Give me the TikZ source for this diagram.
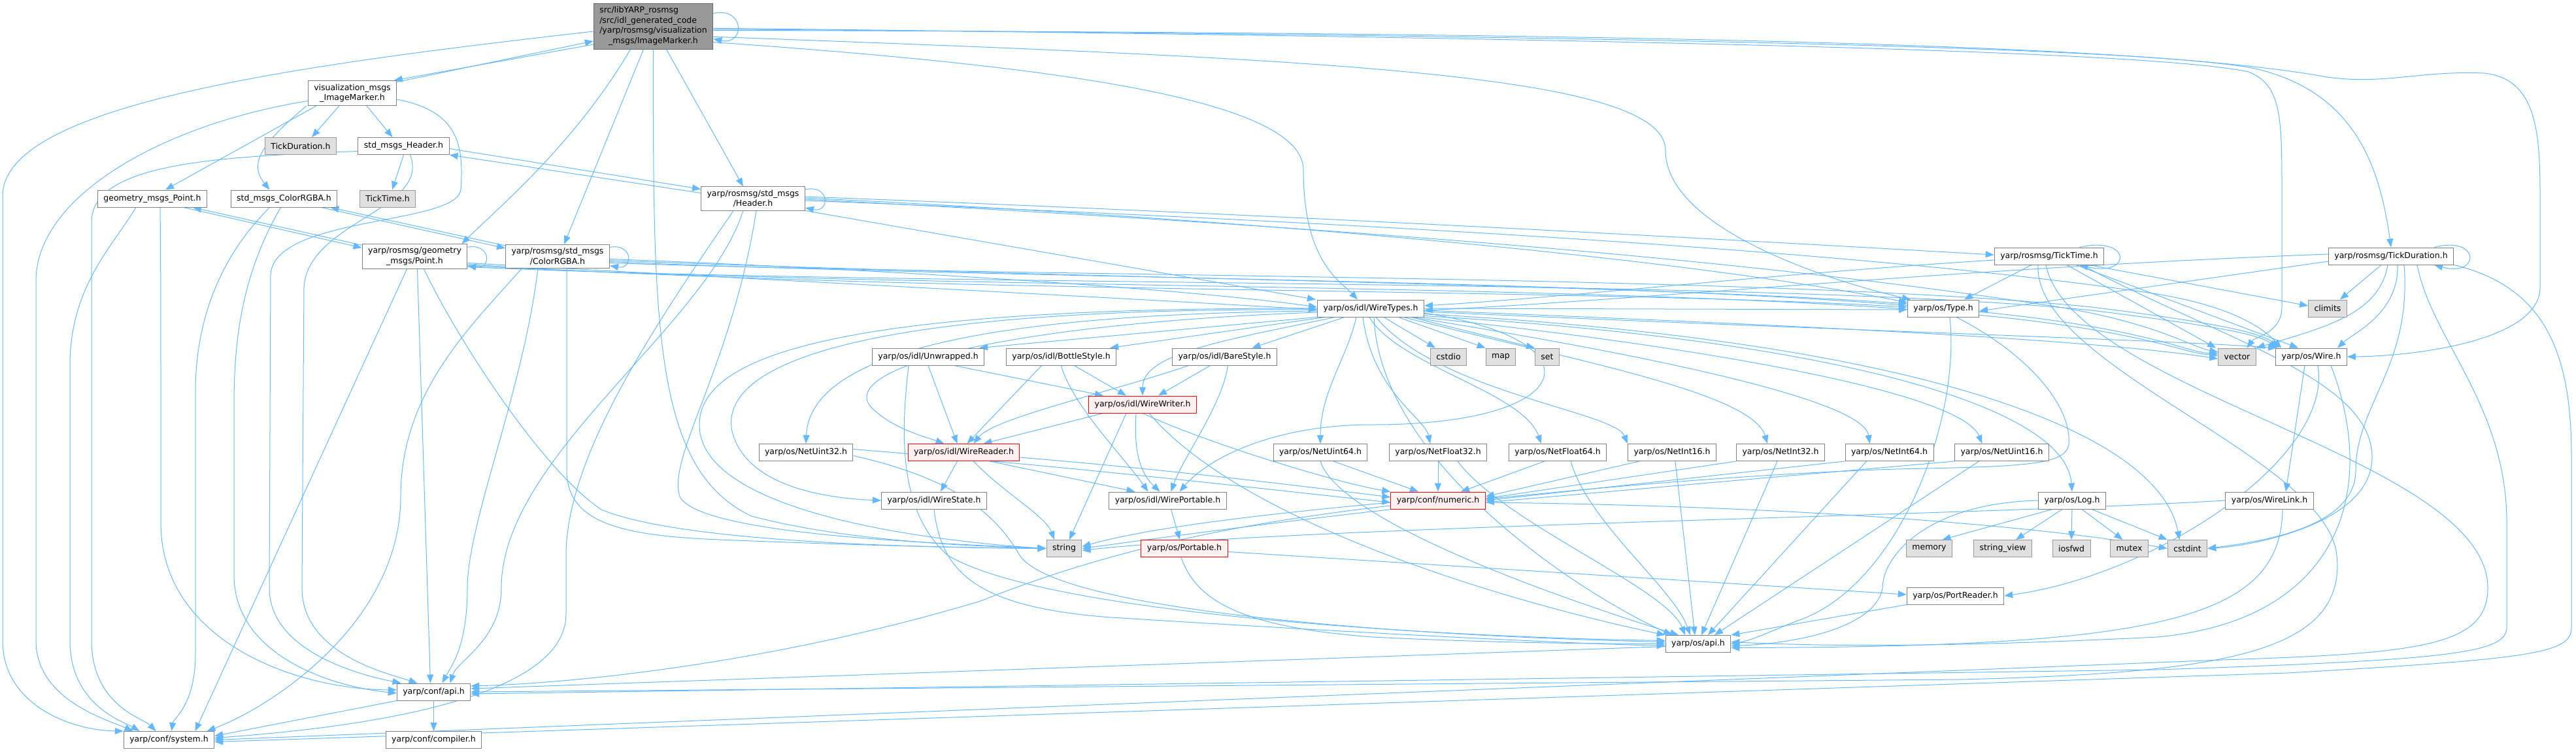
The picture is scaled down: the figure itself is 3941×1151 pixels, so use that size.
\documentclass[tikz,border=0pt]{standalone}
\usepackage{fontspec}
\usetikzlibrary{arrows.meta}
\newfontfamily\dotfont{DejaVu Sans}
\definecolor{incblue}{HTML}{63B8FF}
\definecolor{framegray}{HTML}{808080}
\definecolor{extframe}{HTML}{999999}
\definecolor{extgray}{HTML}{E0E0E0}
\definecolor{trunkred}{HTML}{FFF0F0}
\definecolor{topframe}{HTML}{666666}
\definecolor{topgray}{HTML}{999999}
\pgfdeclarelayer{wires}\pgfsetlayers{wires,main}
\tikzset{>={Triangle[length=13pt,width=10pt]},every node/.style={font=\dotfont\fontsize{12.5}{15.5}\selectfont},
  hfile/.style={draw=framegray,fill=white,line width=1pt,inner xsep=9pt,inner ysep=3pt,minimum height=26pt},
  sfile/.style={hfile,draw=extframe,fill=extgray},tfile/.style={hfile,draw=red,fill=trunkred},
  topfile/.style={hfile,draw=topframe,fill=topgray,inner ysep=4pt},two/.style={align=center,inner ysep=5pt},
  inc/.style={->,draw=incblue,line width=1pt}}

\begin{document}
\begin{tikzpicture}[x=1pt,y=-1pt]
\useasboundingbox (0,0) rectangle (3941,1151);
\node[topfile] (main) at (999.5,40) {\begin{tabular}{@{}l@{}}src/libYARP\_rosmsg\\/src/idl\_generated\_code\\/yarp/rosmsg/visualization\\\multicolumn{1}{@{}c@{}}{\_msgs/ImageMarker.h}\end{tabular}};
\node[hfile,two] (vis) at (539,142.5) {visualization\_msgs\\\_ImageMarker.h};
\node[sfile] (tdg) at (460,223.5) {TickDuration.h};
\node[hfile] (sh) at (617.5,223.5) {std\_msgs\_Header.h};
\node[hfile] (gp) at (233,304) {geometry\_msgs\_Point.h};
\node[hfile] (sc) at (434.5,304) {std\_msgs\_ColorRGBA.h};
\node[sfile] (ttg) at (593,304) {TickTime.h};
\node[hfile,two] (hdr) at (1152,304) {yarp/rosmsg/std\_msgs\\/Header.h};
\node[hfile,two] (pt) at (634.5,392.5) {yarp/rosmsg/geometry\\\_msgs/Point.h};
\node[hfile,two] (rgba) at (853,392.5) {yarp/rosmsg/std\_msgs\\/ColorRGBA.h};
\node[hfile] (tt) at (3135,392) {yarp/rosmsg/TickTime.h};
\node[hfile] (td) at (3658,392) {yarp/rosmsg/TickDuration.h};
\node[hfile] (wt) at (2097,472) {yarp/os/idl/WireTypes.h};
\node[hfile] (type) at (2973,472) {yarp/os/Type.h};
\node[sfile] (climits) at (3561,472) {climits};
\node[hfile] (unw) at (1420,546) {yarp/os/idl/Unwrapped.h};
\node[hfile] (bot) at (1623.5,546) {yarp/os/idl/BottleStyle.h};
\node[hfile] (bare) at (1873.5,546) {yarp/os/idl/BareStyle.h};
\node[sfile] (cstdio) at (2216,546) {cstdio};
\node[sfile] (map) at (2296,546) {map};
\node[sfile] (set) at (2367,546) {set};
\node[sfile] (vector) at (3422.5,546) {vector};
\node[hfile] (wire) at (3536,546) {yarp/os/Wire.h};
\node[tfile] (ww) at (1748,619) {yarp/os/idl/WireWriter.h};
\node[hfile] (nu32) at (1233,692.5) {yarp/os/NetUint32.h};
\node[tfile] (wr) at (1474.5,692.5) {yarp/os/idl/WireReader.h};
\node[hfile] (nu64) at (2020,692.5) {yarp/os/NetUint64.h};
\node[hfile] (nf32) at (2200,692.5) {yarp/os/NetFloat32.h};
\node[hfile] (nf64) at (2383,692.5) {yarp/os/NetFloat64.h};
\node[hfile] (ni16) at (2558,692.5) {yarp/os/NetInt16.h};
\node[hfile] (ni32) at (2724,692.5) {yarp/os/NetInt32.h};
\node[hfile] (ni64) at (2890.5,692.5) {yarp/os/NetInt64.h};
\node[hfile] (nu16) at (3062.5,692.5) {yarp/os/NetUint16.h};
\node[hfile] (wst) at (1429,766) {yarp/os/idl/WireState.h};
\node[hfile] (wp) at (1786.5,766) {yarp/os/idl/WirePortable.h};
\node[tfile] (num) at (2200,766) {yarp/conf/numeric.h};
\node[hfile] (log) at (3170,766) {yarp/os/Log.h};
\node[hfile] (wl) at (3472,766) {yarp/os/WireLink.h};
\node[sfile] (str) at (1628,839.5) {string};
\node[tfile] (port) at (1812,839.5) {yarp/os/Portable.h};
\node[sfile] (memory) at (2951.5,839.5) {memory};
\node[sfile] (sv) at (3064,839.5) {string\_view};
\node[sfile] (iosfwd) at (3169,839.5) {iosfwd};
\node[sfile] (mutex) at (3257.5,839.5) {mutex};
\node[sfile] (cstdint) at (3346.5,839.5) {cstdint};
\node[hfile] (pr) at (2991.5,912) {yarp/os/PortReader.h};
\node[hfile] (osapi) at (2598,985.5) {yarp/os/api.h};
\node[hfile] (capi) at (663.5,1059) {yarp/conf/api.h};
\node[hfile] (sys) at (258.5,1132.5) {yarp/conf/system.h};
\node[hfile] (comp) at (663.5,1132.5) {yarp/conf/compiler.h};

\begin{pgfonlayer}{wires}
\draw[inc] (main.12) .. controls (1140,10) and (1140,70) .. (main.348);
\draw[inc] (main.197) -- (vis.17);
\draw[inc] (vis.14) -- (main.194);
\draw[inc] (main.185) .. controls (450,100) and (4,160) .. (4,300) -- (4,980) .. controls (4,1080) and (110,1118) .. (sys.north west);
\draw[inc] ([xshift=-35pt]main.south) .. controls (880,220) and (760,320) .. ([xshift=72pt]pt.north);
\draw[inc] ([xshift=-15pt]main.south) -- ([xshift=10pt]rgba.north);
\draw[inc] ([xshift=20pt]main.south) -- ([xshift=-15pt]hdr.north);
\draw[inc] (main.south) .. controls (999,500) and (1000,720) .. (1150,790) .. controls (1300,830) and (1500,836) .. (str.west);
\draw[inc] (main.345) .. controls (1600,100) and (1994,150) .. (1994,260) .. controls (1994,400) and (2050,430) .. ([xshift=-20pt]wt.north);
\draw[inc] (main.350) .. controls (2000,90) and (2548,110) .. (2548,230) .. controls (2548,350) and (2800,430) .. ([xshift=5pt]type.north west);
\draw[inc] (main.358) .. controls (2600,60) and (3300,80) .. (3440,110) .. controls (3491,130) and (3491,180) .. (3491,300) -- (3491,470) .. controls (3491,510) and (3450,515) .. ([xshift=15pt]vector.north);
\draw[inc] (main.357) .. controls (2600,55) and (3300,75) .. (3450,105) .. controls (3600,140) and (3640,250) .. (td.north);
\draw[inc] (main.356) .. controls (2600,50) and (3300,70) .. (3560,118) .. controls (3650,130) and (3700,108) .. (3800,112) .. controls (3880,120) and (3886,200) .. (3886,300) -- (3886,440) .. controls (3886,520) and (3700,545) .. (wire.east);

\draw[inc] (vis.190) .. controls (250,190) and (55,300) .. (55,430) -- (55,980) .. controls (55,1070) and (160,1100) .. ([xshift=-55pt]sys.north);
\draw[inc] ([xshift=-55pt]vis.south) -- ([xshift=20pt]gp.north);
\draw[inc] ([xshift=-70pt]vis.south) .. controls (400,220) and (380,250) .. ([xshift=-22pt]sc.north);
\draw[inc] ([xshift=-20pt]vis.south) -- ([xshift=17pt]tdg.north);
\draw[inc] ([xshift=22pt]vis.south) -- ([xshift=-17pt]sh.north);
\draw[inc] (vis.352) .. controls (700,170) and (710,220) .. (705,290) .. controls (700,345) and (420,330) .. (414,420) -- (412,900) .. controls (412,1000) and (560,1035) .. ([xshift=-50pt]capi.north);

\draw[inc] ([yshift=-8pt]sh.west) .. controls (330,240) and (140,250) .. (140,340) -- (140,980) .. controls (140,1080) and (220,1100) .. ([xshift=-20pt]sys.north);
\draw[inc] (sh.south) -- ([xshift=7pt]ttg.north);
\draw[inc] ([yshift=-4pt]sh.east) -- ([yshift=-4pt]hdr.north west);
\draw[inc] ([yshift=-10pt]hdr.north west) -- (sh.south east);
\draw[inc] ([xshift=10pt]sh.south) .. controls (660,320) and (470,340) .. (465,440) -- (462,900) .. controls (462,1000) and (590,1030) .. ([xshift=-25pt]capi.north);

\draw[inc] ([xshift=-25pt]gp.south) .. controls (170,380) and (107,440) .. (107,560) -- (107,980) .. controls (107,1080) and (190,1105) .. ([xshift=-45pt]sys.north);
\draw[inc] ([xshift=12pt]gp.south) .. controls (246,400) and (246,500) .. (246,600) -- (246,800) .. controls (246,980) and (450,1055) .. ([yshift=3pt]capi.west);
\draw[inc] ([xshift=-36pt]gp.south east) -- ([yshift=-6pt]pt.north west);
\draw[inc] ([yshift=-2pt]pt.north west) -- ([xshift=-22pt]gp.south east);

\draw[inc] ([xshift=-22pt]sc.south) .. controls (330,400) and (299,500) .. (299,600) -- (299,1000) .. controls (299,1080) and (265,1100) .. ([xshift=4pt]sys.north);
\draw[inc] ([xshift=-5pt]sc.south) .. controls (370,420) and (358,520) .. (358,620) -- (358,880) .. controls (358,1000) and (500,1050) .. ([yshift=-2pt]capi.west);
\draw[inc] ([xshift=-25pt]sc.south east) -- ([yshift=-6pt]rgba.north west);
\draw[inc] ([yshift=-2pt]rgba.north west) -- ([xshift=-11pt]sc.south east);

\draw[inc] (pt.10) .. controls (752,372) and (752,413) .. (pt.350);
\draw[inc] ([xshift=-12pt]pt.south) -- ([xshift=40pt]sys.north);
\draw[inc] ([xshift=4pt]pt.south) -- ([xshift=-5pt]capi.north);
\draw[inc] ([xshift=14pt]pt.south) .. controls (700,520) and (830,720) .. (920,780) .. controls (1040,830) and (1400,838) .. (str.west);
\draw[inc] ([yshift=-10pt]pt.east) .. controls (1200,430) and (1700,455) .. ([yshift=-2pt]wt.west);
\draw[inc] ([yshift=-12pt]pt.east) .. controls (1400,450) and (2400,440) .. ([yshift=2pt]type.west);
\draw[inc] ([yshift=-14pt]pt.east) .. controls (1400,445) and (2600,430) .. (3100,490) .. controls (3300,515) and (3340,540) .. ([yshift=2pt]vector.west);
\draw[inc] ([yshift=-16pt]pt.east) .. controls (1400,440) and (2700,425) .. (3200,475) .. controls (3400,500) and (3455,512) .. ([xshift=3pt]wire.north west);

\draw[inc] (rgba.10) .. controls (969,372) and (969,413) .. (rgba.350);
\draw[inc] ([xshift=-55pt]rgba.south) .. controls (720,500) and (613,600) .. (613,760) .. controls (613,950) and (420,1080) .. ([xshift=58pt]sys.north);
\draw[inc] ([xshift=-30pt]rgba.south) .. controls (800,600) and (715,800) .. (715,900) .. controls (715,990) and (690,1020) .. ([xshift=13pt]capi.north);
\draw[inc] ([xshift=14pt]rgba.south) .. controls (867,500) and (867,650) .. (867,720) .. controls (867,800) and (950,820) .. (1100,826) .. controls (1300,834) and (1450,838) .. (str.west);
\draw[inc] ([yshift=-4pt]rgba.east) .. controls (1300,410) and (1800,440) .. ([yshift=2pt]wt.west);
\draw[inc] ([yshift=-6pt]rgba.east) .. controls (1600,425) and (2500,435) .. ([yshift=7pt]type.west);
\draw[inc] ([yshift=-8pt]rgba.east) .. controls (1600,430) and (2600,425) .. (3100,485) .. controls (3300,510) and (3350,540) .. ([yshift=5pt]vector.west);
\draw[inc] ([yshift=-10pt]rgba.east) .. controls (1600,425) and (2700,420) .. (3200,470) .. controls (3400,495) and (3460,510) .. ([xshift=6pt]wire.north west);

\draw[inc] (hdr.10) .. controls (1270,282) and (1270,326) .. (hdr.350);
\draw[inc] ([yshift=3pt]hdr.east) .. controls (2000,330) and (2700,370) .. ([yshift=2pt]tt.west);
\draw[inc] ([yshift=1pt]hdr.east) .. controls (2000,340) and (2600,400) .. ([yshift=9pt]type.west);
\draw[inc] ([yshift=-1pt]hdr.east) .. controls (2100,350) and (2700,400) .. (3150,470) .. controls (3300,495) and (3350,530) .. ([yshift=7pt]vector.west);
\draw[inc] ([yshift=-3pt]hdr.east) .. controls (2200,345) and (2900,390) .. (3300,450) .. controls (3420,470) and (3465,505) .. ([xshift=9pt]wire.north west);
\draw[inc] (hdr.347) -- ([xshift=-2pt]wt.north west);
\draw[inc] ([xshift=-30pt]hdr.south) .. controls (1000,500) and (866,700) .. (866,850) -- (866,940) .. controls (866,1060) and (600,1110) .. ([yshift=3pt]sys.east);
\draw[inc] ([xshift=-15pt]hdr.south) .. controls (1080,500) and (767,700) .. (767,900) .. controls (767,980) and (700,1010) .. ([xshift=25pt]capi.north);
\draw[inc] ([xshift=5pt]hdr.south) .. controls (1120,560) and (1020,700) .. (1040,760) .. controls (1070,820) and (1450,832) .. (str.west);

\draw[inc] ([xshift=-38pt]tt.north east) .. controls (3262,360) and (3262,425) .. ([xshift=-38pt]tt.south east);
\draw[inc] ([yshift=-6pt]tt.west) .. controls (2700,420) and (2400,455) .. ([yshift=4pt]wt.east);
\draw[inc] ([xshift=-27pt]tt.south) -- ([xshift=32pt]type.north);
\draw[inc] ([xshift=61pt]tt.south) -- ([yshift=4pt]climits.west);
\draw[inc] ([xshift=27pt]tt.south) -- ([xshift=-3pt]vector.north west);
\draw[inc] ([xshift=41pt]tt.south) -- ([xshift=-20pt]wire.north);
\draw[inc] ([xshift=50pt]tt.south) .. controls (3400,520) and (3629,580) .. (3629,700) .. controls (3629,800) and (3450,835) .. (cstdint.east);
\draw[inc] ([xshift=-17pt]tt.south) .. controls (3110,560) and (3560,700) .. (3575,850) .. controls (3590,1000) and (3400,1030) .. (3000,1040) -- (capi.east);
\draw[inc] ([xshift=-5pt]tt.south) .. controls (3170,600) and (3806,700) .. (3806,900) .. controls (3806,990) and (3700,1000) .. (3400,1010) -- (sys.east);

\draw[inc] ([xshift=-30pt]td.north east) .. controls (3795,360) and (3795,425) .. ([xshift=-30pt]td.south east);
\draw[inc] ([yshift=3pt]td.west) .. controls (3000,410) and (2500,460) .. ([yshift=-3pt]wt.east);
\draw[inc] ([yshift=-8pt]td.west) -- ([yshift=-4pt]type.east);
\draw[inc] ([xshift=-15pt]td.south) -- ([xshift=19pt]climits.north);
\draw[inc] ([xshift=-5pt]td.south) .. controls (3640,480) and (3560,500) .. (vector.north east);
\draw[inc] ([xshift=10pt]td.south) .. controls (3670,480) and (3600,510) .. ([xshift=40pt]wire.north);
\draw[inc] ([xshift=20pt]td.south) .. controls (3690,560) and (3604,620) .. (3604,720) .. controls (3604,810) and (3450,830) .. (cstdint.east);
\draw[inc] ([xshift=40pt]td.south) .. controls (3720,520) and (3835,620) .. (3835,800) -- (3835,960) .. controls (3835,1000) and (3750,1010) .. (3300,1025) -- ([yshift=-3pt]capi.east);
\draw[inc] (td.south east) .. controls (3900,440) and (3934,550) .. (3934,700) -- (3934,960) .. controls (3934,1000) and (3880,1008) .. (3500,1030) -- ([yshift=-3pt]sys.east);

\draw[inc] ([xshift=20pt]type.south) .. controls (3100,540) and (3170,620) .. (3165,680) .. controls (3160,712) and (3100,714) .. (2900,718) .. controls (2400,735) and (1800,820) .. (str.east);
\draw[inc] ([xshift=10pt]type.south) .. controls (3000,650) and (2900,900) .. (2750,950) .. controls (2700,970) and (2680,980) .. (osapi.east);

\draw[inc] (wt.south west) -- ([xshift=-8pt]unw.north east);
\draw[inc] ([xshift=12pt]wt.south west) -- ([xshift=-10pt]bot.north east);
\draw[inc] ([xshift=-40pt]wt.south) -- ([xshift=42pt]bare.north);
\draw[inc] ([xshift=20pt]wt.south) -- ([xshift=-20pt]cstdio.north);
\draw[inc] ([xshift=42pt]wt.south) -- (map.north west);
\draw[inc] ([xshift=62pt]wt.south) -- (set.north west);
\draw[inc] ([yshift=-4pt]wt.west) .. controls (1600,480) and (1240,520) .. (nu32.north);
\draw[inc] ([yshift=-6pt]wt.west) .. controls (1550,495) and (1290,560) .. (1330,620) .. controls (1360,655) and (1420,670) .. ([xshift=-30pt]wr.north);
\draw[inc] ([xshift=-55pt]wt.south) .. controls (1880,520) and (1748,540) .. (ww.north);
\draw[inc] ([yshift=-2pt]wt.west) .. controls (1300,470) and (1100,560) .. (1120,660) .. controls (1140,740) and (1250,762) .. (wst.west);
\draw[inc] (wt.west) .. controls (1300,470) and (1070,540) .. (1070,650) .. controls (1070,790) and (1450,830) .. (str.west);
\draw[inc] (wt.355) .. controls (2450,520) and (2420,650) .. (2100,650) .. controls (1950,650) and (1850,700) .. ([xshift=18pt]wp.north);
\draw[inc] ([xshift=-22pt]wt.south) .. controls (2060,550) and (2020,600) .. (nu64.north);
\draw[inc] ([xshift=-12pt]wt.south) .. controls (2100,600) and (2180,640) .. ([xshift=-12pt]nf32.north);
\draw[inc] ([xshift=-2pt]wt.south) .. controls (2140,560) and (2330,600) .. ([xshift=-25pt]nf64.north);
\draw[inc] ([xshift=8pt]wt.south) .. controls (2200,600) and (2470,630) .. (ni16.north west);
\draw[inc] (wt.345) .. controls (2400,550) and (2680,600) .. ([xshift=-20pt]ni32.north);
\draw[inc] (wt.348) .. controls (2500,540) and (2850,610) .. ([xshift=-30pt]ni64.north);
\draw[inc] (wt.350) .. controls (2600,530) and (3000,600) .. ([xshift=-30pt]nu16.north);
\draw[inc] (wt.352) .. controls (2800,520) and (3160,620) .. (log.north);
\draw[inc] (wt.354) .. controls (2900,520) and (3300,650) .. ([xshift=-12pt]cstdint.north);
\draw[inc] ([yshift=-3pt]wt.east) .. controls (2800,500) and (3200,520) .. ([yshift=-3pt]vector.west);
\draw[inc] ([yshift=-5pt]wt.east) .. controls (2800,505) and (3300,520) .. ([xshift=2pt]wire.north west);
\draw[inc] (wt.east) -- ([yshift=-2pt]type.west);
\draw[inc] ([xshift=5pt]wt.south) .. controls (2110,700) and (2400,900) .. ([xshift=-40pt]osapi.north);

\draw[inc] (unw.south) -- ([xshift=-10pt]wr.north);
\draw[inc] ([xshift=40pt]unw.south) -- ([xshift=-60pt]ww.north);
\draw[inc] ([xshift=-30pt]unw.south) .. controls (1380,650) and (1370,780) .. (1450,850) .. controls (1600,940) and (2200,975) .. ([yshift=5pt]osapi.west);
\draw[inc] ([xshift=-30pt]bot.south) -- ([xshift=5pt]wr.north);
\draw[inc] ([xshift=20pt]bot.south) -- ([xshift=-25pt]ww.north);
\draw[inc] (bot.south) .. controls (1640,620) and (1720,700) .. ([xshift=-30pt]wp.north);
\draw[inc] ([xshift=-55pt]bare.south) .. controls (1700,600) and (1520,640) .. ([xshift=15pt]wr.north);
\draw[inc] ([xshift=-22pt]bare.south) -- ([xshift=24pt]ww.north);
\draw[inc] ([xshift=5pt]bare.south) .. controls (1870,620) and (1810,700) .. ([xshift=5pt]wp.north);

\draw[inc] ([xshift=-60pt]ww.south) -- ([xshift=30pt]wr.north);
\draw[inc] ([xshift=-25pt]ww.south) -- ([xshift=8pt]str.north);
\draw[inc] ([xshift=-10pt]ww.south) .. controls (1735,680) and (1740,720) .. ([xshift=-12pt]wp.north);
\draw[inc] (ww.south) .. controls (1850,680) and (2050,740) .. (num.north west);
\draw[inc] ([xshift=10pt]ww.south) .. controls (1900,800) and (2300,920) .. (osapi.north west);
\draw[inc] ([xshift=-10pt]wr.south) -- ([xshift=10pt]wst.north);
\draw[inc] ([xshift=15pt]wr.south) .. controls (1530,750) and (1600,790) .. ([xshift=-15pt]str.north);
\draw[inc] ([xshift=40pt]wr.south) -- ([xshift=-50pt]wp.north);
\draw[inc] (wr.355) .. controls (1800,720) and (2000,745) .. ([yshift=5pt]num.west);
\draw[inc] (wst.south) .. controls (1440,880) and (1500,930) .. (1700,945) .. controls (2100,970) and (2400,985) .. ([yshift=-3pt]osapi.west);
\draw[inc] ([xshift=5pt]wp.south) -- ([xshift=-7pt]port.north);
\draw[inc] ([yshift=-5pt]port.east) -- ([yshift=2pt]pr.west);
\draw[inc] ([xshift=-5pt]port.south) .. controls (1830,920) and (1900,960) .. (2100,975) .. controls (2300,985) and (2450,985) .. (osapi.west);

\draw[inc] ([yshift=5pt]nu32.east) .. controls (1700,720) and (1900,745) .. ([yshift=-3pt]num.west);
\draw[inc] ([yshift=-5pt]nu32.east) .. controls (1450,730) and (1520,780) .. (1560,850) .. controls (1620,940) and (2200,975) .. ([yshift=3pt]osapi.west);
\draw[inc] ([xshift=20pt]nu64.south) -- ([xshift=-30pt]num.north);
\draw[inc] (nu64.south) .. controls (2050,800) and (2400,920) .. ([xshift=-30pt]osapi.north);
\draw[inc] (nf32.south) -- (num.north);
\draw[inc] ([xshift=30pt]nf32.south) .. controls (2300,800) and (2550,900) .. ([xshift=-20pt]osapi.north);
\draw[inc] ([xshift=-20pt]nf64.south) -- ([xshift=35pt]num.north);
\draw[inc] ([xshift=20pt]nf64.south) .. controls (2430,800) and (2560,900) .. ([xshift=-12pt]osapi.north);
\draw[inc] ([xshift=-50pt]ni16.south) -- ([yshift=6pt]num.east);
\draw[inc] ([xshift=5pt]ni16.south) -- ([xshift=-5pt]osapi.north);
\draw[inc] (ni32.south west) -- ([yshift=3pt]num.east);
\draw[inc] ([xshift=-5pt]ni32.south) -- ([xshift=5pt]osapi.north);
\draw[inc] (ni64.south west) -- (num.east);
\draw[inc] ([xshift=-35pt]ni64.south) -- ([xshift=15pt]osapi.north);
\draw[inc] (nu16.south west) -- ([yshift=-3pt]num.east);
\draw[inc] ([xshift=-35pt]nu16.south) -- ([xshift=25pt]osapi.north);

\draw[inc] ([xshift=-30pt]log.south) -- ([xshift=20pt]memory.north);
\draw[inc] ([xshift=-15pt]log.south) -- ([xshift=20pt]sv.north);
\draw[inc] (log.south) -- (iosfwd.north);
\draw[inc] ([xshift=15pt]log.south) -- ([xshift=-10pt]mutex.north);
\draw[inc] ([xshift=30pt]log.south) -- (cstdint.north west);
\draw[inc] (log.west) .. controls (2950,770) and (2880,850) .. (2880,900) .. controls (2870,960) and (2750,985) .. ([yshift=-3pt]osapi.east);
\draw[inc] ([xshift=20pt]wl.south) .. controls (3490,950) and (3300,990) .. ([yshift=-6pt]osapi.east);
\draw[inc] (wl.west) .. controls (3000,790) and (2000,805) .. ([yshift=-3pt]str.east);
\draw[inc] ([xshift=-10pt]wire.south) -- ([xshift=25pt]wl.north);
\draw[inc] ([xshift=10pt]wire.south) .. controls (3570,700) and (3300,880) .. (pr.east);
\draw[inc] ([xshift=30pt]wire.south) .. controls (3640,750) and (3580,950) .. (3300,975) .. controls (3000,990) and (2800,990) .. ([yshift=3pt]osapi.east);
\draw[inc] (pr.south west) -- (osapi.north east);
\draw[inc] ([yshift=-3pt]num.west) .. controls (1900,790) and (1750,810) .. ([yshift=3pt]str.east);
\draw[inc] ([yshift=-3pt]num.east) .. controls (2800,775) and (3150,810) .. (cstdint.west);
\draw[inc] ([yshift=-8pt]num.west) .. controls (1900,800) and (1700,840) .. (1500,920) .. controls (1200,1010) and (900,1045) .. ([yshift=9pt]capi.east);
\draw[inc] ([yshift=-4pt]osapi.west) -- ([yshift=5pt]capi.east);
\draw[inc] (capi.south west) -- ([yshift=6pt]sys.east);
\draw[inc] (capi.south) -- (comp.north);
\end{pgfonlayer}
\end{tikzpicture}
\end{document}
